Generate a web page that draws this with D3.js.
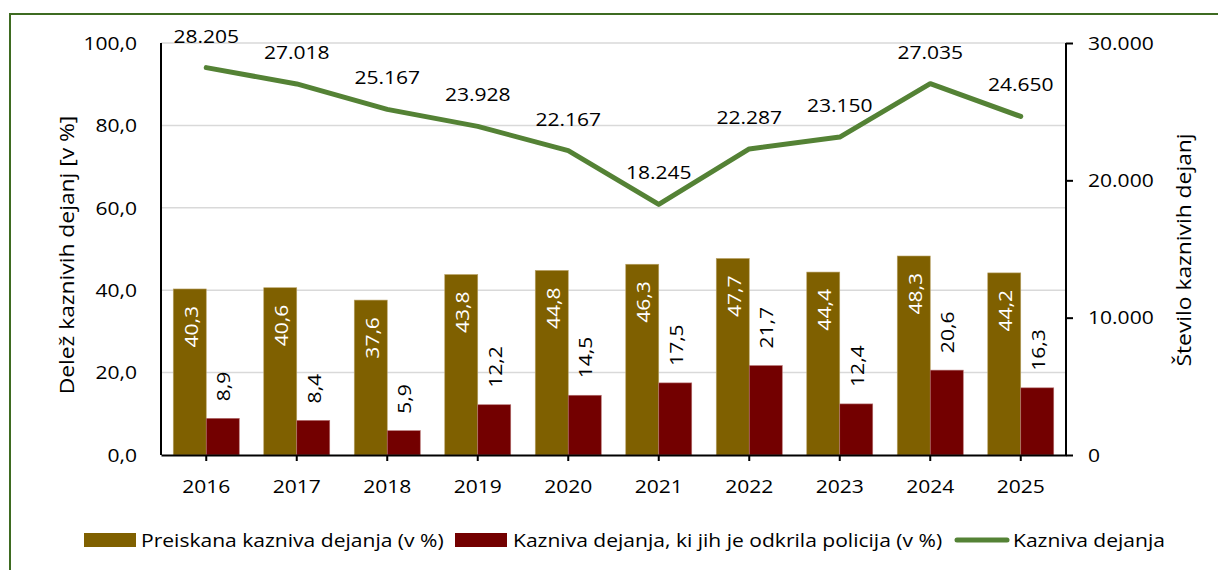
<!DOCTYPE html>
<html>
<head>
<meta charset="utf-8">
<script src="https://cdn.jsdelivr.net/npm/d3@7"></script>
<style>
  body { margin: 0; background: #fff; }
  svg text { font-family: "Open Sans", sans-serif; fill: #000; }
</style>
</head>
<body>
<div class="infographic"></div>
<script>
var years = ["2016", "2017", "2018", "2019", "2020", "2021", "2022", "2023", "2024", "2025"];
var preiskana = [40.3, 40.6, 37.6, 43.8, 44.8, 46.3, 47.7, 44.4, 48.3, 44.2];
var odkrila = [8.9, 8.4, 5.9, 12.2, 14.5, 17.5, 21.7, 12.4, 20.6, 16.3];
var dejanja = [28205, 27018, 25167, 23928, 22167, 18245, 22287, 23150, 27035, 24650];
var leftTicks = [0, 20, 40, 60, 80, 100];
var rightTicks = [0, 10000, 20000, 30000];
var legendLabels = ["Preiskana kazniva dejanja (v %)", "Kazniva dejanja, ki jih je odkrila policija (v %)", "Kazniva dejanja"];

var width = 1218, height = 570;
var margin = {top: 43, right: 152, bottom: 115, left: 161};

var gold = "#7f6000", red = "#730000", green = "#548235";

var loc = d3.formatLocale({decimal: ",", thousands: ".", grouping: [3], currency: ["", "€"]});
var fmt1 = loc.format(",.1f");
var fmtInt = loc.format(",");

// the original text is a bit wider than Open Sans, so stretch it a little
var fs = 18, SX = 1.17;
function place(x, y, rot) {
  return "translate(" + x + "," + y + ")" + (rot ? " rotate(" + rot + ")" : "") + " scale(" + SX + ",1)";
}

var svg = d3.select(".infographic")
            .append("svg")
            .attr("width", width)
            .attr("height", height);

// green frame, cut off at right and bottom
svg.append("rect")
    .attr("x", 10).attr("y", 14)
    .attr("width", 1230).attr("height", 600)
    .attr("fill", "none")
    .attr("stroke", "#3e6b21")
    .attr("stroke-width", 2);

var x = d3.scaleBand()
    .domain(years)
    .range([margin.left, width - margin.right])
    .padding(0);

var yL = d3.scaleLinear().domain([0, 100]).range([height - margin.bottom, margin.top]);
var yR = d3.scaleLinear().domain([0, 30000]).range([height - margin.bottom, margin.top]);

var bw = 33;
function cx(d) { return x(d) + x.bandwidth() / 2; }

// gridlines
svg.append("g")
    .attr("class", "grid")
    .selectAll("line")
    .data(leftTicks.filter(function(d){ return d > 0; }))
    .enter().append("line")
    .attr("x1", margin.left).attr("x2", width - margin.right)
    .attr("y1", function(d){ return yL(d); })
    .attr("y2", function(d){ return yL(d); })
    .attr("stroke", "#d9d9d9")
    .attr("stroke-width", 1.5);

// bars
var groups = svg.append("g").attr("class", "bars")
    .selectAll("g")
    .data(years)
    .enter().append("g");

groups.append("rect")
    .attr("x", function(d){ return cx(d) - bw; })
    .attr("y", function(d, i){ return yL(preiskana[i]); })
    .attr("width", bw)
    .attr("height", function(d, i){ return yL(0) - yL(preiskana[i]); })
    .attr("fill", gold)
    .attr("stroke", "#b9a266")
    .attr("stroke-width", 0.6);

groups.append("rect")
    .attr("x", function(d){ return cx(d); })
    .attr("y", function(d, i){ return yL(odkrila[i]); })
    .attr("width", bw)
    .attr("height", function(d, i){ return yL(0) - yL(odkrila[i]); })
    .attr("fill", red)
    .attr("stroke", "#b57070")
    .attr("stroke-width", 0.6);

// bar labels
groups.append("text")
    .attr("transform", function(d, i){ return place(cx(d) - bw / 2 + 8, yL(preiskana[i]) + 17, -90); })
    .attr("text-anchor", "end")
    .style("font-size", fs + "px")
    .style("fill", "#fff")
    .text(function(d, i){ return fmt1(preiskana[i]); });

groups.append("text")
    .attr("transform", function(d, i){ return place(cx(d) + bw / 2 + 7.5, yL(odkrila[i]) - 17, -90); })
    .attr("text-anchor", "start")
    .style("font-size", fs + "px")
    .text(function(d, i){ return fmt1(odkrila[i]); });

// axes
var axisL = svg.append("g")
    .attr("transform", "translate(" + margin.left + ",0)")
    .call(d3.axisLeft(yL).tickValues(leftTicks).tickSize(0).tickFormat(fmt1));

var axisR = svg.append("g")
    .attr("transform", "translate(" + (width - margin.right) + ",0)")
    .call(d3.axisRight(yR).tickValues(rightTicks).tickSize(7).tickFormat(fmtInt));

var axisX = svg.append("g")
    .attr("transform", "translate(0," + (height - margin.bottom) + ")")
    .call(d3.axisBottom(x).tickSize(6).tickSizeOuter(0));

[axisL, axisR, axisX].forEach(function(a){
  a.select(".domain").attr("stroke", "#000").attr("stroke-width", 2);
  a.selectAll(".tick line").attr("stroke", "#000").attr("stroke-width", 2);
  a.selectAll("text").style("font-size", fs + "px").attr("font-family", null)
    .attr("x", null).attr("y", null);
});
axisL.selectAll("text").attr("dy", "0.35em").attr("transform", place(-24, 0));
axisR.selectAll("text").attr("dy", "0.35em").attr("transform", place(22, 0));
axisX.selectAll("text").attr("dy", null).attr("transform", place(0, 38));
axisL.select(".domain").attr("d", "M0," + margin.top + "V" + yL(0));
axisR.select(".domain").attr("d", "M0," + margin.top + "V" + yR(0));

// line
var line = d3.line()
    .x(function(d, i){ return cx(years[i]); })
    .y(function(d){ return yR(d); });

svg.append("path")
    .datum(dejanja)
    .attr("d", line)
    .attr("fill", "none")
    .attr("stroke", green)
    .attr("stroke-width", 5)
    .attr("stroke-linecap", "round")
    .attr("stroke-linejoin", "round");

svg.append("g")
    .selectAll("text")
    .data(dejanja)
    .enter().append("text")
    .attr("transform", function(d, i){ return place(cx(years[i]), yR(d) - 25); })
    .attr("text-anchor", "middle")
    .style("font-size", fs + "px")
    .text(function(d){ return fmtInt(d); });

// axis titles
svg.append("text")
    .attr("transform", place(74, 255, -90))
    .attr("text-anchor", "middle")
    .style("font-size", "19.5px")
    .text("Delež kaznivih dejanj [v %]");

svg.append("text")
    .attr("transform", place(1191, 250, -90))
    .attr("text-anchor", "middle")
    .style("font-size", "19.5px")
    .text("Število kaznivih dejanj");

// legend
var legend = svg.append("g").attr("class", "legend");
legend.append("rect").attr("x", 84).attr("y", 533).attr("width", 52).attr("height", 14).attr("fill", gold);
legend.append("rect").attr("x", 455).attr("y", 533).attr("width", 52).attr("height", 14).attr("fill", red);
legend.append("line").attr("x1", 957).attr("x2", 1007).attr("y1", 540).attr("y2", 540)
    .attr("stroke", green).attr("stroke-width", 5).attr("stroke-linecap", "round");
var tx = [141, 513, 1013];
legend.selectAll("text")
    .data(legendLabels)
    .enter().append("text")
    .attr("transform", function(d, i){ return place(tx[i], 547); })
    .style("font-size", fs + "px")
    .text(function(d){ return d; });
</script>
</body>
</html>
